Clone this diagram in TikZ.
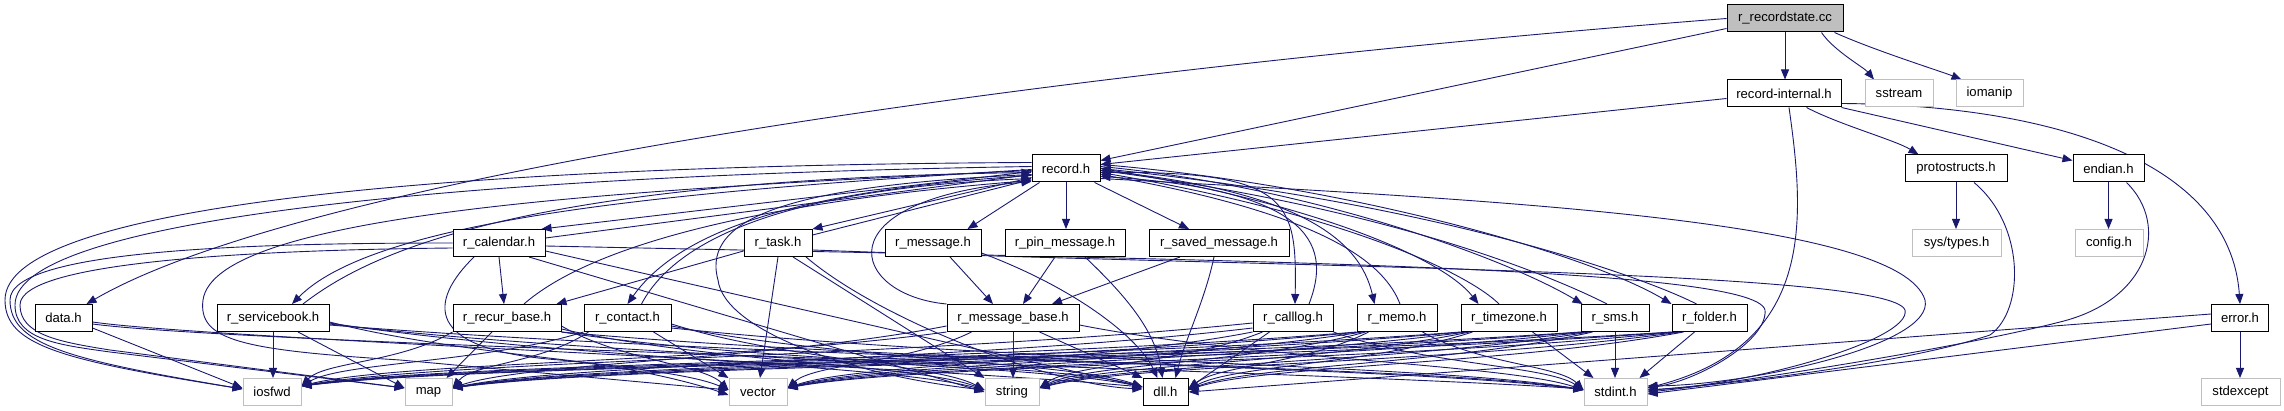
\documentclass[tikz,border=0pt]{standalone}
\usepackage{fontspec}
\setmainfont{Liberation Sans}
\usetikzlibrary{arrows.meta,calc}
\definecolor{edgec}{RGB}{25,25,112}
\definecolor{sysgray}{RGB}{191,191,191}
\pgfdeclarelayer{bg}
\pgfsetlayers{bg,main}
\begin{document}
\begin{tikzpicture}[x=1pt,y=-1pt,
 box/.style={minimum height=27pt, inner sep=0pt, fill=white, font=\fontsize{13.1pt}{15pt}\selectfont, line width=1pt},
 doc/.style={box, draw=black},
 sys/.style={box, draw=sysgray},
 root/.style={box, draw=black, fill=sysgray},
 edg/.style={draw=edgec, line width=0.9pt, -{Triangle[length=10pt,width=8pt]}},
 crv/.style={to path={.. controls ($(\tikztostart)!0.35!(\tikztotarget)+(0,12)$) and ($(\tikztostart)!0.85!(\tikztotarget)+(0,-16)$) .. (\tikztotarget)}}]
\useasboundingbox (0,0) rectangle (2284,411);
% nodes
\node[root, minimum width=116pt] (rs) at (1785,18.5) {r\_recordstate.cc};
\node[doc, minimum width=114pt] (ri) at (1784,93.5) {record-internal.h};
\node[sys, minimum width=68pt] (sstream) at (1899,93.5) {sstream};
\node[sys, minimum width=67pt] (iomanip) at (1989.5,93.5) {iomanip};
\node[doc, minimum width=68pt] (rec) at (1066,168.5) {record.h};
\node[doc, minimum width=102pt] (proto) at (1956,168.5) {protostructs.h};
\node[doc, minimum width=71pt] (endian) at (2108.5,168.5) {endian.h};
\node[doc, minimum width=92pt] (cal) at (499,243) {r\_calendar.h};
\node[doc, minimum width=68pt] (task) at (778,243) {r\_task.h};
\node[doc, minimum width=96pt] (msg) at (933,243) {r\_message.h};
\node[doc, minimum width=120pt] (pin) at (1065,243) {r\_pin\_message.h};
\node[doc, minimum width=140pt] (saved) at (1219,243) {r\_saved\_message.h};
\node[sys, minimum width=89pt] (systypes) at (1956.5,243) {sys/types.h};
\node[sys, minimum width=68pt] (config) at (2109,243) {config.h};
\node[doc, minimum width=57pt] (data) at (63.5,318) {data.h};
\node[doc, minimum width=112pt] (sb) at (273,318) {r\_servicebook.h};
\node[doc, minimum width=108pt] (recur) at (507,318) {r\_recur\_base.h};
\node[doc, minimum width=87pt] (contact) at (627.5,318) {r\_contact.h};
\node[doc, minimum width=132pt] (mbase) at (1013,318) {r\_message\_base.h};
\node[doc, minimum width=80pt] (calllog) at (1293,318) {r\_calllog.h};
\node[doc, minimum width=80pt] (memo) at (1397,318) {r\_memo.h};
\node[doc, minimum width=96pt] (tz) at (1509,318) {r\_timezone.h};
\node[doc, minimum width=68pt] (sms) at (1615,318) {r\_sms.h};
\node[doc, minimum width=75pt] (folder) at (1709.5,318) {r\_folder.h};
\node[doc, minimum width=57pt] (error) at (2240,318) {error.h};
\node[sys, minimum width=58pt] (iosfwd) at (272,392) {iosfwd};
\node[sys, minimum width=47pt] (map) at (428.5,392) {map};
\node[sys, minimum width=58pt] (vector) at (758,392) {vector};
\node[sys, minimum width=54pt] (string) at (1012,392) {string};
\node[doc, minimum width=45pt] (dll) at (1165.5,392) {dll.h};
\node[sys, minimum width=63pt] (stdint) at (1615.5,392) {stdint.h};
\node[sys, minimum width=79pt] (stdexcept) at (2240.5,392) {stdexcept};
% arrival points
\coordinate (iosE) at ([yshift=6pt]iosfwd.east);
\coordinate (mapE) at ([yshift=4pt]map.east);
\coordinate (vecE) at ([yshift=4pt]vector.east);
\coordinate (strE) at ([yshift=4pt]string.east);
\coordinate (dllE) at ([yshift=2pt]dll.east);
\coordinate (vecW) at ([yshift=2pt]vector.west);
\coordinate (strW) at ([yshift=2pt]string.west);
\coordinate (dllW) at ([yshift=5pt]dll.west);
\coordinate (stdW) at ([yshift=2pt]stdint.west);
\begin{pgfonlayer}{bg}
% top part
\draw[edg] (rs.south) -- (rs.south |- ri.north);
\draw[edg] ([xshift=-22pt]rs.south east) .. controls +(12,18) and +(-10,-12) .. ([xshift=-25pt]sstream.north);
\draw[edg] ([xshift=-9pt]rs.south east) .. controls +(40,18) and +(-20,-8) .. ([xshift=-28pt]iomanip.north);
\draw[edg] ([yshift=-10pt]rs.west) -- ([yshift=8pt]rec.east);
\draw[edg] (rs.west) .. controls (1000,75) and (300,180) .. ([xshift=-6pt]data.north east);
\draw[edg] ([yshift=-5pt]ri.west) -- ([yshift=4pt]rec.east);
\draw[edg] ([xshift=-35pt]ri.south east) .. controls (1840,125) and (1895,140) .. ([xshift=14pt]proto.north west);
\draw[edg] (ri.south east) -- ([yshift=8pt]endian.west);
\draw[edg] ([yshift=-10pt]ri.east) .. controls (2050,105) and (2230,160) .. (error.north);
\draw[edg] ([xshift=5pt]ri.south) .. controls (1805,220) and (1815,345) .. ([yshift=4pt]stdint.east);
\draw[edg] (proto.south) -- (proto.south |- systypes.north);
\draw[edg] ([xshift=18pt]proto.south) .. controls (2025,225) and (2025,310) .. (1990,335) .. controls (1900,365) and (1720,385) .. ([yshift=2pt]stdint.east);
\draw[edg] (endian.south) -- (endian.south |- config.north);
\draw[edg] ([xshift=18pt]endian.south) .. controls (2170,225) and (2150,300) .. (2060,322) .. controls (1950,350) and (1720,385) .. (stdint.east);
\draw[edg] (error.south) -- (error.south |- stdexcept.north);
\draw[edg] ([yshift=-6pt]error.west) -- ([yshift=-2pt]stdint.east);
\draw[edg] ([yshift=4pt]error.west) -- (dll.east);
% record.h to row 3
\draw[edg] ([yshift=-3pt]rec.west) -- ([xshift=-4pt]cal.north east);
\draw[edg] ([yshift=5pt]cal.east) -- ([yshift=-6pt]rec.west);
\draw[edg] ([yshift=-9pt]rec.west) -- (task.north east);
\draw[edg] ([yshift=8pt]task.east) -- ([yshift=-11pt]rec.west);
\draw[edg] ([xshift=8pt]rec.south west) -- ([xshift=-14pt]msg.north east);
\draw[edg] (rec.south) -- (rec.south |- pin.north);
\draw[edg] ([xshift=-6pt]rec.south east) -- ([xshift=-30pt]saved.north);
% record.h to row 4 and back
\draw[edg] ([yshift=-1pt]rec.west) .. controls (700,190) and (380,215) .. ([xshift=19pt]sb.north);
\draw[edg] ([xshift=30pt]sb.north) .. controls (360,260) and (500,180) .. ([yshift=-4pt]rec.west);
\draw[edg] ([yshift=-7pt]rec.west) .. controls (800,190) and (680,230) .. (contact.north);
\draw[edg] ([xshift=14pt]contact.north) .. controls (670,250) and (760,190) .. ([yshift=-10pt]rec.west);
\draw[edg] ([xshift=17pt]recur.north) .. controls (580,255) and (720,205) .. ([yshift=-12pt]rec.west);
\draw[edg] (mbase.north west) .. controls (850,295) and (820,200) .. ([yshift=-13pt]rec.west);
\draw[edg] ([yshift=-4pt]rec.east) .. controls (1290,170) and (1297,200) .. ([xshift=2pt]calllog.north);
\draw[edg] ([xshift=16pt]calllog.north) .. controls (1330,250) and (1320,190) .. ([yshift=-8pt]rec.east);
\draw[edg] ([yshift=-2pt]rec.east) .. controls (1300,190) and (1360,240) .. ([xshift=18pt]memo.north west);
\draw[edg] ([xshift=3pt]memo.north) .. controls (1385,265) and (1330,215) .. ([yshift=-6pt]rec.east);
\draw[edg] (rec.east) .. controls (1300,200) and (1440,255) .. ([xshift=18pt]tz.north west);
\draw[edg] ([xshift=-10pt]tz.north) .. controls (1470,275) and (1350,215) .. ([yshift=-4pt]rec.east);
\draw[edg] ([yshift=2pt]rec.east) .. controls (1300,185) and (1500,255) .. ([xshift=2pt]sms.north west);
\draw[edg] ([xshift=-8pt]sms.north) .. controls (1560,280) and (1400,210) .. ([yshift=-2pt]rec.east);
\draw[edg] ([yshift=4pt]rec.east) .. controls (1350,185) and (1590,255) .. (folder.north west);
\draw[edg] ([xshift=-13pt]folder.north) .. controls (1650,280) and (1450,205) .. (rec.east);
% record.h to system headers
\draw[edg] ([yshift=6pt]rec.west) .. controls (500,165) and (5,200) .. (5,300) .. controls (5,345) and (60,360) .. ([yshift=3pt]iosfwd.west);
\draw[edg] ([yshift=2pt]rec.west) .. controls (500,175) and (15,215) .. (15,305) .. controls (15,340) and (60,345) .. (110,352) -- ([yshift=4pt]map.west);
\draw[edg] ([yshift=-2pt]rec.west) .. controls (600,190) and (215,215) .. (203,300) .. controls (198,340) and (240,350) .. (400,360) -- (vecW);
\draw[edg] ([yshift=-6pt]rec.west) .. controls (800,185) and (700,215) .. (718,280) .. controls (724,330) and (850,375) .. (strW);
\draw[edg] ([yshift=-10pt]rec.east) .. controls (1500,200) and (1900,220) .. (1925,300) .. controls (1935,345) and (1750,385) .. ([yshift=6pt]stdint.east);
% r_calendar.h
\draw[edg] (cal.south) -- ([xshift=-3pt]recur.north);
\draw[edg] (cal.west) .. controls (250,243) and (10,250) .. (10,300) .. controls (10,345) and (70,360) .. ([yshift=3pt]iosfwd.west);
\draw[edg] ([yshift=-5pt]cal.west) .. controls (250,250) and (20,262) .. (20,305) .. controls (20,335) and (60,342) .. (110,350) -- ([yshift=4pt]map.west);
\draw[edg] ([xshift=-25pt]cal.south) .. controls (430,300) and (420,350) .. (560,360) .. controls (640,368) and (700,385) .. ([yshift=-3pt]vector.west);
\draw[edg] ([xshift=30pt]cal.south) -- (string.west);
\draw[edg] ([yshift=-8pt]cal.east) -- (dllW);
\draw[edg] ([yshift=-3pt]cal.east) .. controls (1200,260) and (1755,265) .. (1765,310) .. controls (1768,340) and (1700,380) .. ([yshift=4pt]stdint.east);
% r_task.h
\draw[edg] ([yshift=-8pt]task.west) -- ([xshift=-5pt]recur.north east);
\draw[edg] (task.south) -- ([xshift=2pt]vector.north);
\draw[edg] ([xshift=15pt]task.south) -- (string.north west);
\draw[edg] ([xshift=28pt]task.south) .. controls (880,320) and (1050,385) .. ([yshift=3pt]dll.west);
\draw[edg] ([yshift=-7pt]task.east) .. controls (1300,268) and (1890,270) .. (1905,310) .. controls (1912,340) and (1750,385) .. ([yshift=2pt]stdint.east);
% messages
\draw[edg] ([xshift=17pt]msg.south) -- ([xshift=-20pt]mbase.north);
\draw[edg] ([yshift=-10pt]msg.east) .. controls (1080,290) and (1140,340) .. ([xshift=-8pt]dll.north);
\draw[edg] ([xshift=-10pt]pin.south) -- ([xshift=10pt]mbase.north);
\draw[edg] ([xshift=20pt]pin.south) .. controls (1125,295) and (1155,330) .. ([xshift=-3pt]dll.north);
\draw[edg] ([xshift=-39pt]saved.south) -- ([xshift=39pt]mbase.north);
\draw[edg] ([xshift=-5pt]saved.south) .. controls (1205,300) and (1185,340) .. ([xshift=10pt]dll.north);
% data.h
\draw[edg] ([yshift=-10pt]data.east) -- ([yshift=4pt]iosfwd.west);
\draw[edg] ([yshift=-4pt]data.east) .. controls (200,338) and (900,365) .. (dllW);
\draw[edg] ([yshift=-6pt]data.east) .. controls (250,345) and (1300,370) .. ([yshift=3pt]stdint.west);
% r_servicebook.h
\draw[edg] (sb.south) -- (sb.south |- iosfwd.north);
\draw[edg] ([xshift=25pt]sb.south) -- ([yshift=4pt]map.west);
\draw[edg] ([yshift=-4pt]sb.east) to[crv] (vecW);
\draw[edg] ([yshift=-5pt]sb.east) to[crv] (strW);
\draw[edg] ([yshift=-6pt]sb.east) to[crv] (dllW);
\draw[edg] ([yshift=-7pt]sb.east) to[crv] (stdW);
% r_recur_base.h
\draw[edg] ([xshift=-15pt]recur.south) -- ([xshift=-6pt]map.north east);
\draw[edg] (recur.south west) to[crv] (iosE);
\draw[edg] ([yshift=-8pt]recur.east) to[crv] (vecW);
\draw[edg] ([yshift=-11pt]recur.east) to[crv] (strW);
\draw[edg] (recur.south east) to[crv] (dllW);
\draw[edg] (recur.south east) to[crv] (stdW);
% r_contact.h
\draw[edg] (contact.south west) to[crv] (iosE);
\draw[edg] ([xshift=5pt]contact.south west) to[crv] (mapE);
\draw[edg] ([xshift=-18pt]contact.south east) -- (vector.north west);
\draw[edg] ([yshift=-6pt]contact.east) to[crv] (strW);
\draw[edg] ([yshift=-8pt]contact.east) to[crv] (dllW);
\draw[edg] ([yshift=-10pt]contact.east) to[crv] (stdW);
% r_message_base.h
\draw[edg] (mbase.south west) to[crv] (iosE);
\draw[edg] ([yshift=-8pt]mbase.west) to[crv] (mapE);
\draw[edg] ([xshift=25pt]mbase.south west) to[crv] (vecE);
\draw[edg] (mbase.south) -- (mbase.south |- string.north);
\draw[edg] ([xshift=-40pt]mbase.south east) -- (dll.north west);
\draw[edg] ([yshift=-7pt]mbase.east) to[crv] (stdW);
% r_calllog.h
\draw[edg] ([yshift=-5pt]calllog.west) to[crv] (iosE);
\draw[edg] ([yshift=-10pt]calllog.west) to[crv] (mapE);
\draw[edg] (calllog.south west) to[crv] (vecE);
\draw[edg] ([xshift=10pt]calllog.south west) to[crv] (strE);
\draw[edg] ([xshift=17pt]calllog.south west) -- ([yshift=4pt]dll.east);
\draw[edg] (calllog.south east) to[crv] (stdW);
% r_memo.h
\draw[edg] (memo.south west) to[crv] (iosE);
\draw[edg] ([xshift=3pt]memo.south west) to[crv] (mapE);
\draw[edg] ([xshift=6pt]memo.south west) to[crv] (vecE);
\draw[edg] ([xshift=9pt]memo.south west) to[crv] (strE);
\draw[edg] ([xshift=12pt]memo.south west) to[crv] (dllE);
\draw[edg] ([xshift=-15pt]memo.south east) to[crv] (stdW);
% r_timezone.h
\draw[edg] (tz.south west) to[crv] (iosE);
\draw[edg] ([xshift=3pt]tz.south west) to[crv] (mapE);
\draw[edg] ([xshift=6pt]tz.south west) to[crv] (vecE);
\draw[edg] ([xshift=9pt]tz.south west) to[crv] (strE);
\draw[edg] ([xshift=12pt]tz.south west) to[crv] (dllE);
\draw[edg] ([xshift=-25pt]tz.south east) -- ([xshift=10pt]stdint.north west);
% r_sms.h
\draw[edg] (sms.south) -- (sms.south |- stdint.north);
\draw[edg] (sms.south west) to[crv] (iosE);
\draw[edg] ([xshift=3pt]sms.south west) to[crv] (mapE);
\draw[edg] ([xshift=6pt]sms.south west) to[crv] (vecE);
\draw[edg] ([xshift=9pt]sms.south west) to[crv] (strE);
\draw[edg] ([xshift=12pt]sms.south west) to[crv] (dllE);
% r_folder.h
\draw[edg] ([xshift=-15pt]folder.south) -- ([xshift=-8pt]stdint.north east);
\draw[edg] (folder.south west) to[crv] (iosE);
\draw[edg] ([xshift=3pt]folder.south west) to[crv] (mapE);
\draw[edg] ([xshift=6pt]folder.south west) to[crv] (vecE);
\draw[edg] ([xshift=9pt]folder.south west) to[crv] (strE);
\draw[edg] ([xshift=12pt]folder.south west) to[crv] (dllE);
\end{pgfonlayer}
\end{tikzpicture}
\end{document}
